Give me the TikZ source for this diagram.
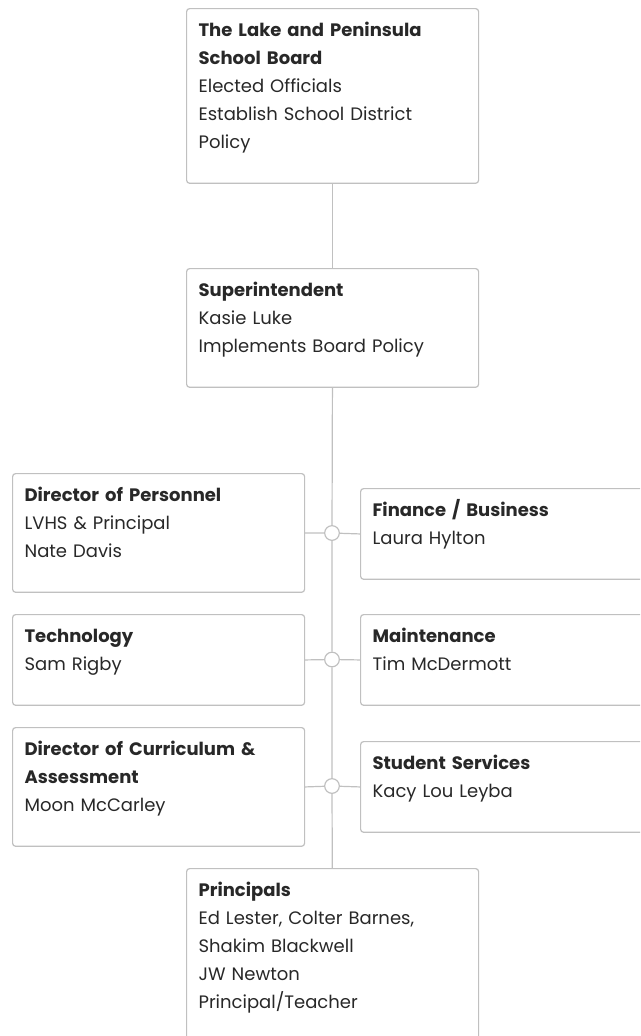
\documentclass[tikz,border=0pt]{standalone}
\usepackage{fontspec}
\setmainfont{Poppins}
\definecolor{ink}{RGB}{40,40,40}
\definecolor{rim}{RGB}{192,192,192}
\newcommand\tstr{\rule{0pt}{21pt}}
\newcommand\bstr{\rule[-26pt]{0pt}{26pt}}
\begin{document}
\begin{tikzpicture}[x=0.75pt,y=-0.75pt,
	box/.style={draw=rim,fill=white,line width=0.9pt,rounded corners=2.25pt,anchor=north west,
		inner xsep=9pt,inner ysep=0pt,text width=201pt,align=left,text=ink,
		font=\fontsize{13.5}{21}\selectfont},
	dot/.style={circle,draw=rim,fill=white,line width=0.9pt,inner sep=0pt,minimum size=11pt},
	link/.style={draw=rim,line width=0.9pt}]
	\useasboundingbox (0,0) rectangle (640,1036);
	\clip (0,0) rectangle (640,1036);
	\node (board) [box] at (186,8) {\tstr\textbf{The Lake and Peninsula}\\\textbf{School Board}\\Elected Officials\\Establish School District\\Policy\bstr};
	\node (super) [box] at (186,268) {\tstr\textbf{Superintendent}\\Kasie Luke\\Implements Board Policy\bstr};
	\node (pers) [box] at (12,473) {\tstr\textbf{Director of Personnel}\\LVHS \& Principal\\Nate Davis\bstr};
	\node (tech) [box] at (12,614) {\tstr\textbf{Technology}\\Sam Rigby\bstr};
	\node (curr) [box] at (12,727) {\tstr\textbf{Director of Curriculum \&}\\\textbf{Assessment}\\Moon McCarley\bstr};
	\node (fin) [box] at (360,488) {\tstr\textbf{Finance / Business}\\Laura Hylton\bstr};
	\node (maint) [box] at (360,614) {\tstr\textbf{Maintenance}\\Tim McDermott\bstr};
	\node (stud) [box] at (360,741) {\tstr\textbf{Student Services}\\Kacy Lou Leyba\bstr};
	\node (prin) [box] at (186,868) {\tstr\textbf{Principals}\\Ed Lester, Colter Barnes,\\Shakim Blackwell\\JW Newton\\Principal/Teacher\bstr};
	\node (j1) [dot] at (332,533) {};
	\node (j2) [dot] at (332,659.5) {};
	\node (j3) [dot] at (332,786) {};
	\draw [link] (board) -- (super);
	\draw [link] (super) -- (j1) -- (j2) -- (j3) -- (prin);
	\draw [link] (pers.east) -- (j1) -- (fin.west);
	\draw [link] (tech.east) -- (j2) -- (maint.west);
	\draw [link] (curr.east) -- (j3) -- (stud.west);
\end{tikzpicture}
\end{document}
